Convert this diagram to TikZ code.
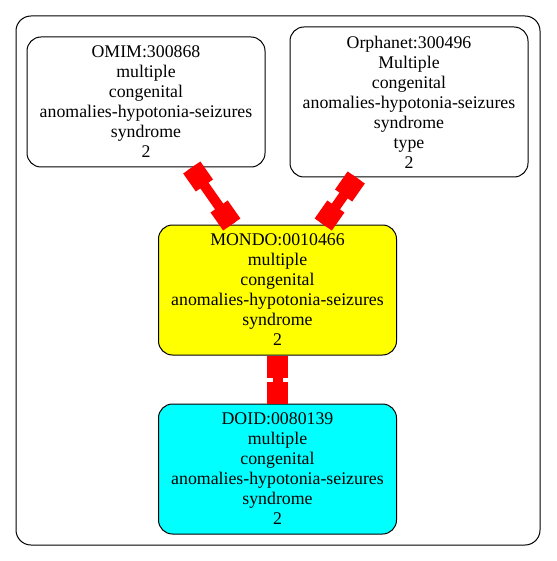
\documentclass[tikz,border=0pt]{standalone}
\usepackage{fontspec}
\setmainfont{Liberation Serif}
\usetikzlibrary{calc}
\definecolor{aquafill}{RGB}{0,255,255}
\definecolor{yellowfill}{RGB}{255,255,0}
\definecolor{edgered}{RGB}{255,0,0}
\tikzset{
  termbox/.style={draw=black, line width=1pt, rounded corners=14pt, align=center,
    minimum width=238pt, inner sep=0pt, font=\fontsize{17.8}{20}\selectfont},
  edgeline/.style={draw=edgered, line width=10pt, line cap=butt},
  edgebox/.style={draw=edgered, line width=21pt, line cap=butt},
}
\newcommand{\boxedge}[2]{%
  \path (#1) -- (#2) coordinate[pos=0] (#1-#2-s) coordinate[pos=1] (#1-#2-e);
  \draw[edgeline] (#1-#2-s) -- (#1-#2-e);
  \draw[edgebox] (#1-#2-s) -- ($(#1-#2-s)!22pt!(#1-#2-e)$);
  \draw[edgebox] (#1-#2-e) -- ($(#1-#2-e)!22pt!(#1-#2-s)$);
}
\begin{document}
\begin{tikzpicture}[x=1pt,y=-1pt]
\useasboundingbox (0,0) rectangle (556,561);
\draw[line width=1pt, rounded corners=15pt] (16,16) rectangle (540,545);
\node[termbox, minimum height=130pt] (omim) at (146,102) {OMIM:300868\\multiple\\congenital\\anomalies-hypotonia-seizures\\syndrome\\2};
\node[termbox, minimum height=150pt] (orpha) at (409,102) {Orphanet:300496\\Multiple\\congenital\\anomalies-hypotonia-seizures\\syndrome\\type\\2};
\node[termbox, minimum height=130pt, fill=yellowfill] (mondo) at (277.5,290) {MONDO:0010466\\multiple\\congenital\\anomalies-hypotonia-seizures\\syndrome\\2};
\node[termbox, minimum height=130pt, fill=aquafill] (doid) at (277.5,469) {DOID:0080139\\multiple\\congenital\\anomalies-hypotonia-seizures\\syndrome\\2};
\boxedge{omim}{mondo}
\boxedge{orpha}{mondo}
\boxedge{mondo}{doid}
\end{tikzpicture}
\end{document}
